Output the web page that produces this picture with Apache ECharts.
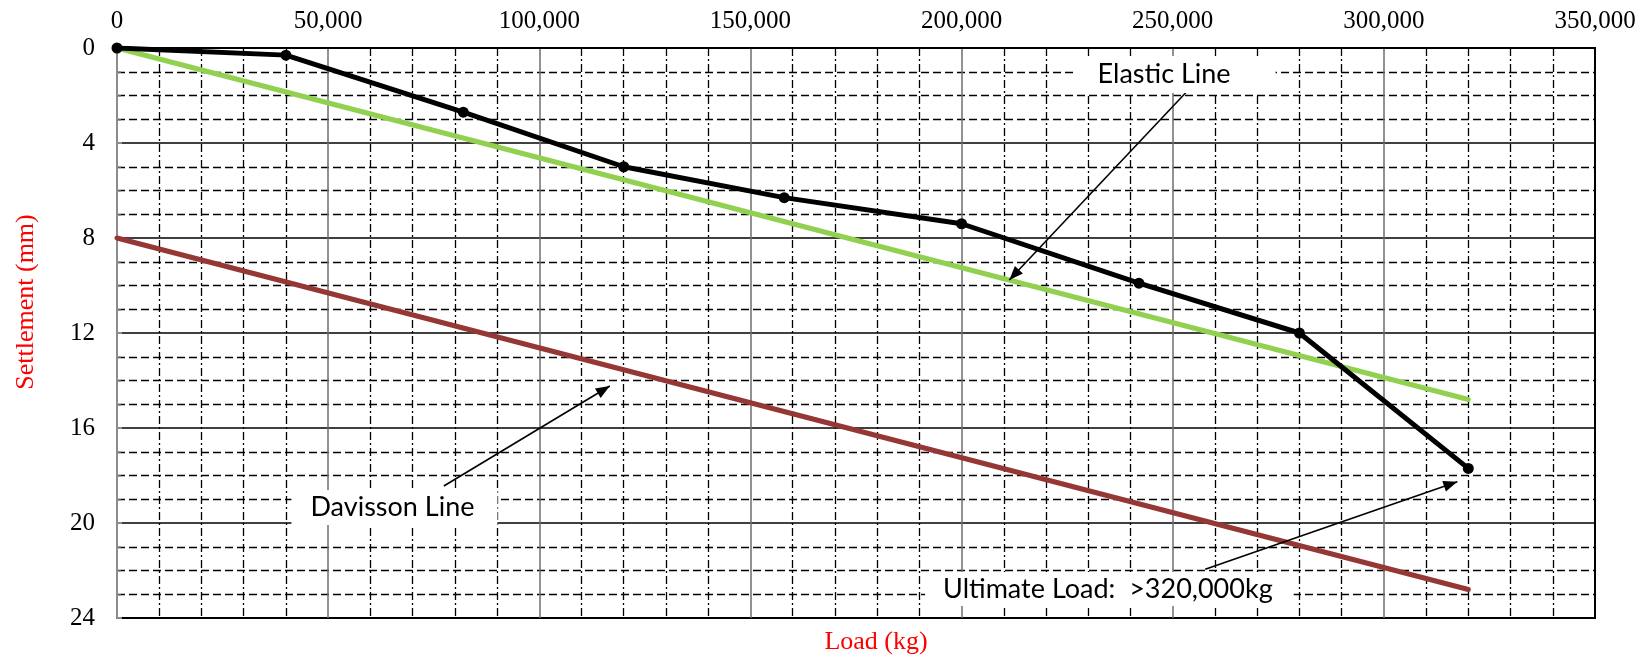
<!DOCTYPE html>
<html>
<head>
<meta charset="utf-8">
<title>Load - Settlement</title>
<script src="https://cdn.jsdelivr.net/npm/echarts@6/dist/echarts.min.js"></script>
<style>
  html, body { margin: 0; padding: 0; background: #fff; }
  #chart { width: 1649px; height: 656px; }
</style>
</head>
<body>
<div id="chart"></div>
<script>
// Static load test: applied load vs pile head settlement
const loadKg       = [0, 40000, 82000, 120000, 158000, 200000, 242000, 280000, 320000];
const settlementMm = [0, 0.3, 2.7, 5.0, 6.3, 7.4, 9.9, 12.0, 17.7];

// Elastic compression line and Davisson offset line (two end points each)
const refLoad        = [0, 320000];
const elasticMm      = [0, 14.8];
const davissonMm     = [8, 22.8];

// Axis ranges
const loadMax = 350000, loadStep = 50000;
const settleMax = 24, settleStep = 4;

// Callout texts
const noteElastic  = 'Elastic Line';
const noteDavisson = 'Davisson Line';
const noteUltimate = 'Ultimate Load:  >320,000kg';

const pairs = (xs, ys) => xs.map((x, i) => [x, ys[i]]);
const fmtThousands = v => String(v).replace(/\B(?=(\d{3})+(?!\d))/g, ',');

const serif = '"Liberation Serif", "Times New Roman", serif';
const sans  = 'Lato, "Open Sans", sans-serif';

const calloutLabel = (text, padding) => ({
  show: true,
  position: 'inside',
  formatter: text,
  fontFamily: sans,
  fontSize: 27,
  lineHeight: 27,
  color: '#000',
  backgroundColor: '#fff',
  padding: padding
});

const chart = echarts.init(document.getElementById('chart'), null, { renderer: 'canvas' });

chart.setOption({
  animation: false,
  backgroundColor: '#fff',
  grid: {
    left: 117, top: 48, width: 1478, height: 570,
    show: true, borderColor: '#000', borderWidth: 2, backgroundColor: 'transparent'
  },
  xAxis: {
    type: 'value',
    position: 'top',
    min: 0, max: loadMax, interval: loadStep,
    axisLine: { show: true, lineStyle: { color: '#000', width: 2 } },
    axisTick: { show: false },
    axisLabel: {
      margin: 14,
      fontFamily: serif, fontSize: 25, color: '#000',
      formatter: v => fmtThousands(v)
    },
    splitLine: { show: true, showMaxLine: false, lineStyle: { color: '#6e6e6e', width: 1.5 } },
    minorTick: { show: false, splitNumber: 5 },
    minorSplitLine: { show: true, lineStyle: { color: '#000', width: 1.3, type: [8, 3, 2, 3] } }
  },
  yAxis: {
    type: 'value',
    inverse: true,
    min: 0, max: settleMax, interval: settleStep,
    axisLine: { show: true, lineStyle: { color: '#8c8c8c', width: 2 } },
    axisTick: { show: true, inside: true, length: 5, lineStyle: { color: '#8c8c8c', width: 2 } },
    minorTick: { show: true, splitNumber: 4, length: 4, lineStyle: { color: '#8c8c8c', width: 1.5 } },
    axisLabel: { margin: 22, fontFamily: serif, fontSize: 25, color: '#000' },
    splitLine: { show: true, showMinLine: false, lineStyle: { color: '#000', width: 1.5 } },
    minorSplitLine: { show: true, lineStyle: { color: '#000', width: 1.3, type: [8, 4] } }
  },
  graphic: [
    {
      type: 'text', x: 26, y: 302, rotation: Math.PI / 2,
      style: { text: 'Settlement (mm)', fill: '#ff0000', font: '26px ' + serif, align: 'center', verticalAlign: 'middle' }
    },
    {
      type: 'text', x: 876, y: 642,
      style: { text: 'Load (kg)', fill: '#ff0000', font: '26px ' + serif, align: 'center', verticalAlign: 'middle' }
    }
  ],
  series: [
    {
      name: 'Davisson Line',
      type: 'line',
      data: pairs(refLoad, davissonMm),
      showSymbol: false,
      lineStyle: { color: '#953735', width: 5, cap: 'round' },
      z: 3
    },
    {
      name: 'Elastic Line',
      type: 'line',
      data: pairs(refLoad, elasticMm),
      showSymbol: false,
      lineStyle: { color: '#92d050', width: 5, cap: 'round' },
      z: 4
    },
    {
      name: 'Load test',
      type: 'line',
      data: pairs(loadKg, settlementMm),
      symbol: 'circle',
      symbolSize: 11,
      itemStyle: { color: '#000' },
      lineStyle: { color: '#000', width: 5, join: 'round' },
      z: 5,
      markLine: {
        silent: true,
        symbol: ['none', 'triangle'],
        symbolSize: [11, 14],
        symbolOffset: [0, [0, 7]],
        label: { show: false },
        lineStyle: { color: '#000', width: 1.6, type: 'solid' },
        data: [
          [{ coord: [253300, 1.84] }, { coord: [211300, 9.77] }],
          [{ coord: [77400, 18.44] }, { coord: [116700, 14.23] }],
          [{ coord: [257700, 21.95] }, { coord: [317400, 18.26] }]
        ]
      },
      markPoint: {
        silent: true,
        symbol: 'circle',
        symbolSize: 1,
        itemStyle: { color: 'rgba(0,0,0,0)' },
        data: [
          { coord: [250800, 1.12], label: calloutLabel(noteElastic, [7, 45, 3, 21]) },
          { coord: [65700, 19.35], label: calloutLabel(noteDavisson, [5, 23, 3, 19]) },
          { coord: [235000, 22.78], label: calloutLabel(noteUltimate, [3, 21, 4, 18]) }
        ]
      }
    }
  ]
});
</script>
</body>
</html>
